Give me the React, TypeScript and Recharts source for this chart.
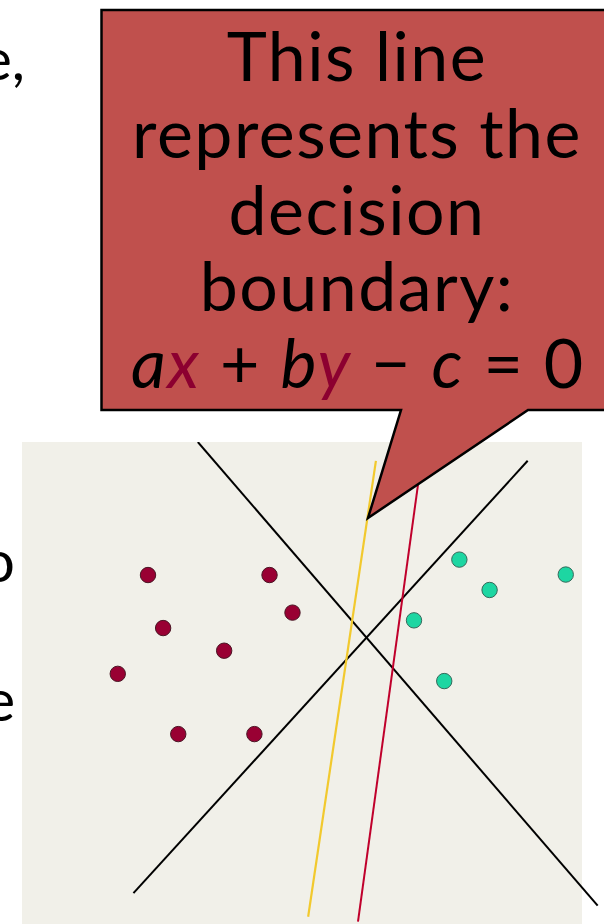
import React from 'react';
import {
  ScatterChart,
  Scatter,
  XAxis,
  YAxis,
  ReferenceArea,
  ReferenceLine,
} from 'recharts';

// the shaded box runs 0..10 on both axes; x domain is padded so lines can run past it
const redClass = [
  { x: 2.25, y: 7.24 },
  { x: 4.42, y: 7.24 },
  { x: 4.83, y: 6.46 },
  { x: 2.52, y: 6.14 },
  { x: 3.61, y: 5.67 },
  { x: 1.71, y: 5.19 },
  { x: 2.79, y: 3.94 },
  { x: 4.15, y: 3.94 },
];

const tealClass = [
  { x: 7.81, y: 7.56 },
  { x: 8.35, y: 6.93 },
  { x: 9.71, y: 7.25 },
  { x: 7.0, y: 6.3 },
  { x: 7.54, y: 5.04 },
];

const blackDown = [
  { x: 3.14, y: 10.0 },
  { x: 10.28, y: 0.38 },
];
const blackUp = [
  { x: 1.99, y: 0.64 },
  { x: 9.03, y: 9.61 },
];
const yellowLine = [
  { x: 6.32, y: 9.61 },
  { x: 5.11, y: 0.15 },
];
const redLine = [
  { x: 7.13, y: 9.61 },
  { x: 6.0, y: 0.05 },
];

const calloutText = ['This line', 'represents the', 'decision', 'boundary:'];

const dot = (fill: string, stroke: string) => (props: any) => (
  <circle cx={props.cx} cy={props.cy} r={7.7} fill={fill} stroke={stroke} strokeWidth={1} />
);

const App = () => {
  return (
    <div style={{ position: 'absolute', left: 0, top: 0, width: 604, height: 924, background: '#fff', overflow: 'hidden' }}>
      {/* bits of the slide text cut off at the left edge */}
      <svg width={604} height={924} style={{ position: 'absolute', left: 0, top: 0 }}>
        <g fontFamily='Lato' fontSize={58} fill='#000' textAnchor='end'>
          <text x={25} y={80}>e,</text>
          <text x={15} y={582}>o</text>
          <text x={15} y={721}>e</text>
        </g>
      </svg>

      <div style={{ position: 'absolute', left: 0, top: 442 }}>
        <ScatterChart width={604} height={482} margin={{ top: 0, right: 0, bottom: 0, left: 0 }}>
          <XAxis type='number' dataKey='x' domain={[-0.393, 10.393]} hide />
          <YAxis type='number' dataKey='y' domain={[0, 10]} hide />
          <ReferenceArea x1={0} x2={10} y1={0} y2={10} fill='#F1F0E9' fillOpacity={1} stroke='none' />
          <ReferenceLine segment={blackDown} stroke='#000' strokeWidth={2} ifOverflow='visible' />
          <ReferenceLine segment={blackUp} stroke='#000' strokeWidth={2} ifOverflow='visible' />
          <ReferenceLine segment={yellowLine} stroke='#F2C92E' strokeWidth={2.2} ifOverflow='visible' />
          <ReferenceLine segment={redLine} stroke='#C0002C' strokeWidth={2} ifOverflow='visible' />
          <Scatter data={redClass} shape={dot('#990033', '#4A1524')} isAnimationActive={false} />
          <Scatter data={tealClass} shape={dot('#1DD6A2', '#36695B')} isAnimationActive={false} />
        </ScatterChart>
      </div>

      {/* callout pointing at the decision boundary */}
      <svg width={604} height={924} style={{ position: 'absolute', left: 0, top: 0, pointerEvents: 'none' }}>
        <path
          d='M101.5,10 H610 V410 H528 L368,518 L401,410 H101.5 Z'
          fill='#C0504D'
          stroke='#000'
          strokeWidth={2.5}
          strokeLinejoin='miter'
        />
        <g fontFamily='Lato' fontSize={68} fill='#000' textAnchor='middle' letterSpacing={1.5}>
          {calloutText.map((t, i) => (
            <text key={t} x={357} y={81 + i * 76.8}>
              {t}
            </text>
          ))}
          <text x={358} y={388} letterSpacing={1.8}>
            <tspan fontStyle='italic'>a</tspan>
            <tspan fontStyle='italic' fill='#8C0030'>x</tspan>
            <tspan> + </tspan>
            <tspan fontStyle='italic'>b</tspan>
            <tspan fontStyle='italic' fill='#8C0030'>y</tspan>
            <tspan> − </tspan>
            <tspan fontStyle='italic'>c</tspan>
            <tspan> = 0</tspan>
          </text>
        </g>
      </svg>
    </div>
  );
};

export default App;
